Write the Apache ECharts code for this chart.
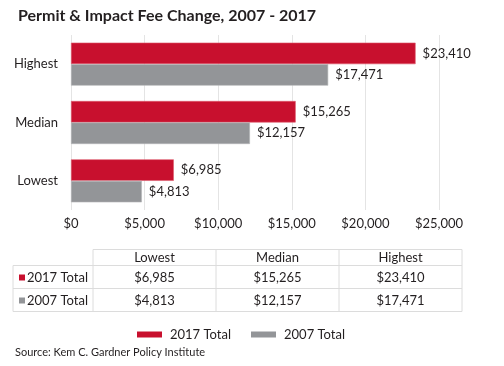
<!DOCTYPE html>
<html><head><meta charset="utf-8">
<script src="https://cdn.jsdelivr.net/npm/echarts@6/dist/echarts.min.js"></script>
<style>html,body{margin:0;padding:0;background:#fff}#c{width:504px;height:366px}</style>
</head><body><div id="c"></div>
<script>
const titleText = 'Permit & Impact Fee Change, 2007 - 2017';
const sourceText = 'Source: Kem C. Gardner Policy Institute';
const categories = ['Lowest', 'Median', 'Highest'];
const seriesNames = ['2017 Total', '2007 Total'];
const values2017 = [6985, 15265, 23410];
const values2007 = [4813, 12157, 17471];
const xTicks = [0, 5000, 10000, 15000, 20000, 25000];

const RED = '#c8102e', GRAY = '#939598', TXT = '#231f20', LINE = '#dcdcdc';
const FONT = 'Lato';
const fmt = v => '$' + Number(v).toLocaleString('en-US');

const chart = echarts.init(document.getElementById('c'), null, {renderer: 'canvas'});

const tbl = {left: 13, labelRight: 93, colW: 123, top: 249.5, headerBottom: 265.5, rowH: 23};
const g = [];
const nCols = categories.length;
const right = tbl.labelRight + tbl.colW * nCols;
const rows = [values2017, values2007];
const bottom = tbl.headerBottom + tbl.rowH * rows.length;
g.push({type:'line', shape:{x1:tbl.labelRight, y1:tbl.top, x2:right, y2:tbl.top}, style:{stroke:LINE, lineWidth:1}});
for (let r = 0; r <= rows.length; r++) {
  const y = tbl.headerBottom + tbl.rowH * r;
  g.push({type:'line', shape:{x1:tbl.left, y1:y, x2:right, y2:y}, style:{stroke:LINE, lineWidth:1}});
}
g.push({type:'line', shape:{x1:tbl.left, y1:tbl.headerBottom, x2:tbl.left, y2:bottom}, style:{stroke:LINE, lineWidth:1}});
for (let c = 0; c <= nCols; c++) {
  const x = tbl.labelRight + tbl.colW * c;
  g.push({type:'line', shape:{x1:x, y1:tbl.top, x2:x, y2:bottom}, style:{stroke:LINE, lineWidth:1}});
}
categories.forEach((cat, c) => {
  g.push({type:'text', x: tbl.labelRight + tbl.colW * (c + 0.5), y: (tbl.top + tbl.headerBottom) / 2 + 0.5,
    style:{text:cat, fill:TXT, font:'13px ' + FONT, textAlign:'center', textVerticalAlign:'middle'}});
});
const rowColors = [RED, GRAY];
rows.forEach((vals, r) => {
  const yc = tbl.headerBottom + tbl.rowH * (r + 0.5) + 0.5;
  g.push({type:'rect', shape:{x:19, y:yc - 3, width:6, height:6}, style:{fill:rowColors[r]}});
  g.push({type:'text', x:27, y:yc, style:{text:seriesNames[r], fill:TXT, font:'13px ' + FONT, textAlign:'left', textVerticalAlign:'middle'}});
  vals.forEach((v, c) => {
    g.push({type:'text', x: tbl.labelRight + tbl.colW * (c + 0.5), y: yc,
      style:{text:fmt(v), fill:TXT, font:'13px ' + FONT, textAlign:'center', textVerticalAlign:'middle'}});
  });
});
g.push({type:'text', x:15, y:352, style:{text:sourceText, fill:TXT, font:'11px ' + FONT, textAlign:'left', textVerticalAlign:'middle'}});

const labelOpt = {show:true, position:'right', distance:7, color:TXT, fontFamily:FONT, fontSize:13, formatter: p => fmt(p.value)};

chart.setOption({
  animation:false,
  textStyle:{fontFamily:FONT},
  title:{text:titleText, left:13, top:3, textStyle:{fontFamily:FONT, fontWeight:'bold', fontSize:16, color:TXT}},
  grid:{left:71, right:65, top:35, bottom:156, containLabel:false},
  legend:{data:seriesNames, top:323, left:132, itemWidth:25, itemHeight:6, itemGap:20, icon:'rect',
    itemStyle:{borderWidth:0},
    textStyle:{fontFamily:FONT, fontSize:13, color:TXT, padding:[0,0,0,3]}},
  xAxis:{type:'value', min:0, max:25000, interval:5000,
    axisLine:{show:false}, axisTick:{show:false},
    splitLine:{lineStyle:{color:'#e4e4e4', width:1}},
    axisLabel:{formatter: v => fmt(v), color:TXT, fontSize:13, margin:7, fontFamily:FONT}},
  yAxis:{type:'category', data:categories,
    axisLine:{show:false}, axisTick:{show:false},
    axisLabel:{color:TXT, fontSize:13, margin:13, fontFamily:FONT}},
  series:[
    {name:seriesNames[0], type:'bar', data:values2017, barWidth:21.5, barGap:'0%',
      itemStyle:{color:RED, borderColor:'#dd5a6c', borderWidth:0.6}, label:labelOpt},
    {name:seriesNames[1], type:'bar', data:values2007, barWidth:21.5, barGap:'0%',
      itemStyle:{color:GRAY, borderColor:'#b4b5b7', borderWidth:0.6}, label:labelOpt}
  ],
  graphic:g
});
</script></body></html>
